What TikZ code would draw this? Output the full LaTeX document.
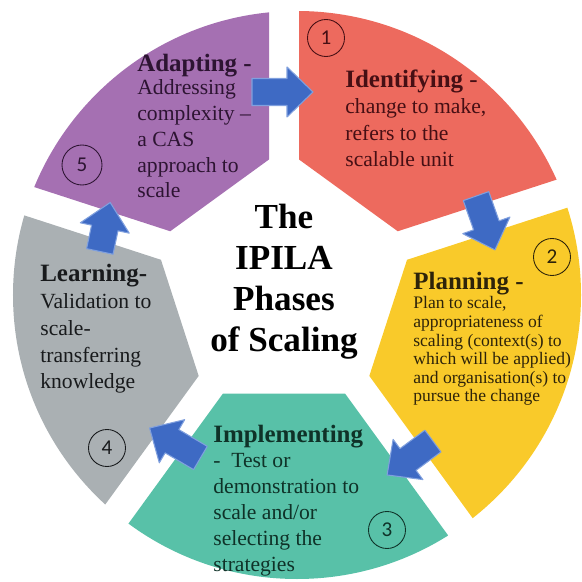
\documentclass[tikz,border=0pt]{standalone}
\usepackage{fontspec}
\setmainfont{Liberation Serif}
\newfontfamily\digitfont{Carlito}
\usepackage{tikz}
\usetikzlibrary{calc}
\definecolor{cycred}{RGB}{237,106,94}
\definecolor{cycyellow}{RGB}{249,202,42}
\definecolor{cycteal}{RGB}{88,193,168}
\definecolor{cycgray}{RGB}{170,176,179}
\definecolor{cycpurple}{RGB}{165,112,178}
\definecolor{cycblue}{RGB}{62,106,196}
\definecolor{cycedge}{RGB}{128,160,222}
\definecolor{inkred}{RGB}{70,15,20}
\definecolor{inkyellow}{RGB}{45,35,10}
\definecolor{inkteal}{RGB}{15,50,40}
\definecolor{inkgray}{RGB}{24,26,28}
\definecolor{inkpurple}{RGB}{45,20,50}

\begin{document}
\begin{tikzpicture}[
  x=1cm,y=1cm,
  phase head/.style={anchor=base west,inner sep=0pt,
    font=\fontsize{14.2}{14.2}\selectfont\bfseries},
  % multi-line nodes sit on the baseline of their last line
  phase text/.style={anchor=base west,inner sep=0pt,align=left,
    font=\fontsize{12.3}{14.7}\selectfont},
  badge/.style={circle,draw,line width=.5pt,inner sep=0pt,minimum size=.74cm,
    font=\digitfont\fontsize{12}{12}\selectfont},
  flow/.style={fill=cycblue,draw=cycedge,line width=.6pt,line join=round},
  title/.style={align=center,inner sep=0pt,anchor=base,
    font=\fontsize{20}{23.5}\selectfont\bfseries},
]
  \useasboundingbox (-5.68,-5.96) rectangle (5.94,5.68);

  % five ring segments: pentagon chord inside, straight gaps between them
  \foreach \a/\col in {54/cycred,-18/cycyellow,-90/cycteal,198/cycgray,126/cycpurple}{
    \begin{scope}
      \clip (.26,-.22) circle (5.68);
      \fill[\col] ($(\a+36:2.49)+(\a-54:.3)$) -- ($(\a+36:8)+(\a-54:.3)$)
        -- (\a:10) -- ($(\a-36:8)+(\a+54:.3)$) -- ($(\a-36:2.49)+(\a+54:.3)$) -- cycle;
    \end{scope}
  }

  % block arrows between the phases: centre, direction, half length
  \foreach \x/\y/\r/\h in {-.03/3.84/0/.61, 4.03/1.22/-70.6/.57, 2.52/-3.48/216.5/.57,
      -2.18/-3.18/149.5/.59, -3.58/1.14/78/.5}{
    \begin{scope}[shift={(\x,\y)},rotate=\r]
      \filldraw[flow] (-\h,-.27) -- (\h-.52,-.27) -- (\h-.52,-.5) -- (\h,0)
        -- (\h-.52,.5) -- (\h-.52,.27) -- (-\h,.27) -- cycle;
    \end{scope}
  }

  \node[title] (ttl) at (0,-1.36) {The\\IPILA\\Phases\\of Scaling};

  % phase texts
  \node[phase head,text=inkpurple] (adaptH) at (-2.94,4.24) {Adapting -};
  \node[phase text,text=inkpurple] (adaptT) at (-2.94,1.72)
    {Addressing\\complexity --\\a CAS\\approach to\\scale};

  \node[phase head,text=inkred] (identH) at (1.22,3.92)
    {Identifying \textnormal{-}};
  \node[phase text,text=inkred,font=\fontsize{12.3}{15.1}\selectfont] (identT)
    at (1.22,2.34) {change to make,\\refers to the\\scalable unit};

  \node[phase head,text=inkyellow] (planH) at (2.58,-.12) {Planning -};
  \node[phase text,text=inkyellow,font=\fontsize{10}{10.6}\selectfont] (planT)
    at (2.58,-2.36) {Plan to scale,\\appropriateness of\\scaling (context(s) to\\%
    which will be applied)\\and organisation(s) to\\pursue the change};

  \node[phase head,text=inkteal] (implH) at (-1.42,-3.16) {Implementing};
  \node[phase text,text=inkteal] (implT) at (-1.42,-5.74)
    {-\ \ Test or\\demonstration to\\scale and/or\\selecting the\\strategies};

  \node[phase head,text=inkgray] (learnH) at (-4.88,.04) {Learning-};
  \node[phase text,text=inkgray,font=\fontsize{12.3}{15.3}\selectfont] (learnT)
    at (-4.88,-2.1) {Validation to\\scale-\\transferring\\knowledge};

  % numbered badges
  \node[badge,draw=inkred,text=inkred] (n1) at (.84,4.92) {1};
  \node[badge,draw=inkyellow,text=inkyellow] (n2) at (5.36,.54) {2};
  \node[badge,draw=inkteal,text=inkteal] (n3) at (2.06,-4.92) {3};
  \node[badge,draw=inkgray,text=inkgray] (n4) at (-3.54,-3.28) {4};
  \node[badge,draw=inkpurple,text=inkpurple,minimum size=.8cm] (n5) at (-4.04,2.38) {5};
\end{tikzpicture}
\end{document}
